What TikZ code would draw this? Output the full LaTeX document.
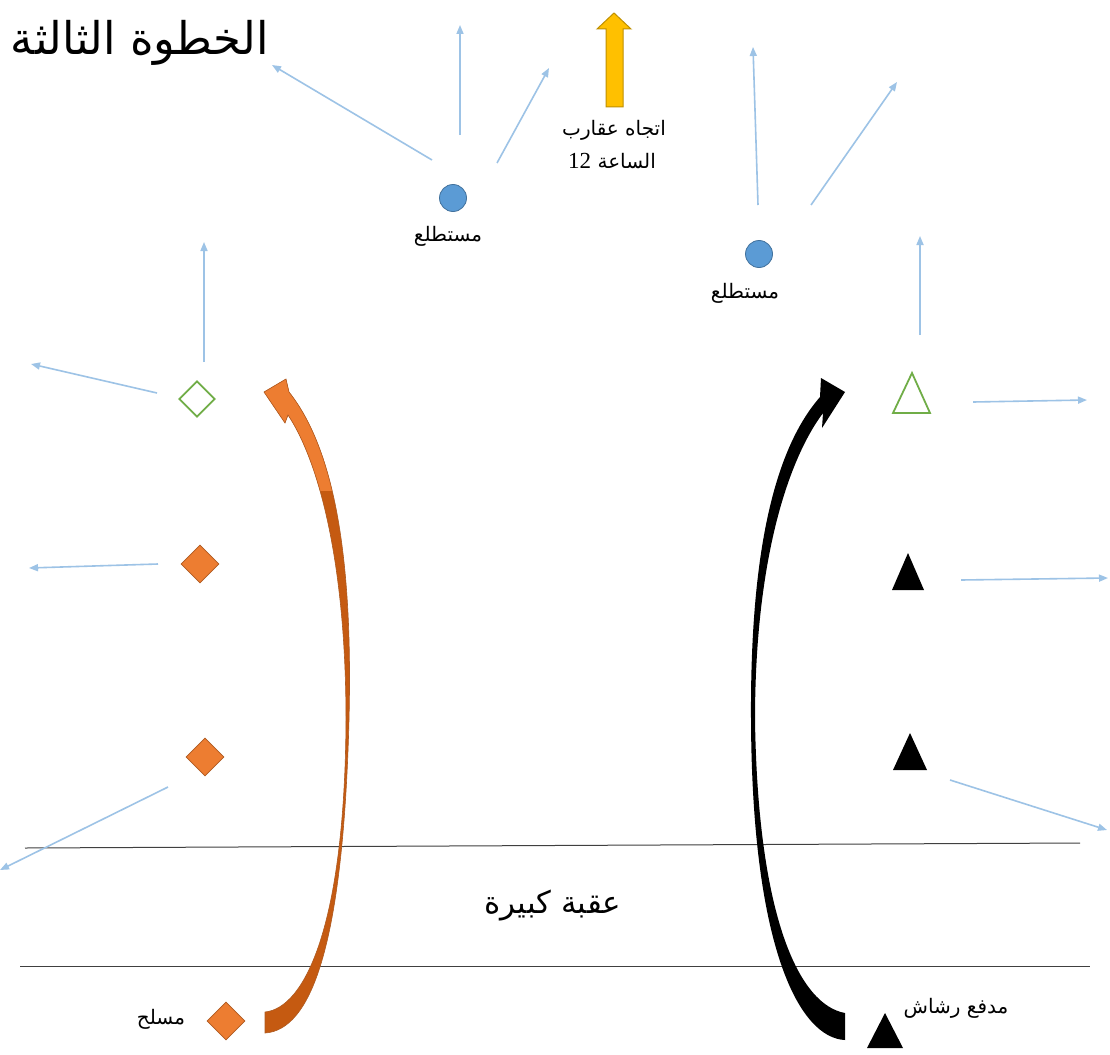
\documentclass[tikz,border=0pt]{standalone}
\usepackage{fontspec}
\setmainfont{Liberation Serif}
\newfontfamily\arabicfont[Script=Arabic]{DejaVu Sans}
\TeXXeTstate=1
\usetikzlibrary{shapes.geometric,arrows.meta}
\definecolor{skyline}{HTML}{9DC3E6}
\definecolor{dotfill}{HTML}{5B9BD5}
\definecolor{dotdraw}{HTML}{41719C}
\definecolor{grn}{HTML}{70AD47}
\definecolor{orfill}{HTML}{ED7D31}
\definecolor{ordark}{HTML}{C55A11}
\definecolor{ordraw}{HTML}{AE5A21}
\definecolor{yel}{HTML}{FFC000}
\definecolor{yeldraw}{HTML}{BF9000}
\tikzset{
  dir/.style={draw=skyline, line width=1.6pt, -{Triangle[length=9pt,width=7pt]}},
  scout/.style={circle, fill=dotfill, draw=dotdraw, line width=0.8pt, minimum size=27pt, inner sep=0pt},
  gdiam/.style={diamond, draw=grn, line width=1.8pt, fill=white, minimum size=36pt, inner sep=0pt},
  odiam/.style={diamond, draw=ordraw, line width=0.8pt, fill=orfill, minimum size=38pt, inner sep=0pt},
  lbl/.style={inner sep=0pt, text=black},
  ar/.style={lbl, font=\arabicfont\fontsize{20}{23}\selectfont},
  obst/.style={draw=black!75, line width=1pt},
}
\begin{document}
\begin{tikzpicture}[x=1pt, y=-1pt]
\useasboundingbox[fill=white] (0,0) rectangle (1110,1054);

% obstacle lines
\coordinate (o1a) at (25,848); \coordinate (o1b) at (1080,843);
\coordinate (o2a) at (20,966); \coordinate (o2b) at (1090,966);
\draw[obst] (o1a) -- (o1b);
\draw[obst] (o2a) -- (o2b);

% title
\node[lbl, font=\arabicfont\fontsize{45}{52}\selectfont] (title) at (140,43) {\beginR الخطوة الثالثة\endR};

% scouts
\node[scout] (c1) at (453,198) {};
\node[ar] (s1) at (448,236) {\beginR مستطلع\endR};
\node[scout] (c2) at (759,254) {};
\node[ar] (s2) at (745,293) {\beginR مستطلع\endR};

% clock direction arrow
\path[fill=yel, draw=yeldraw, line width=1pt] (606,107) -- (606,29) -- (597,29) -- (614,13) -- (631,29) -- (623,29) -- (623,107) -- cycle;
\node[ar] (clk1) at (614,130) {\beginR اتجاه عقارب\endR};
\node[ar] (clk2) at (612,161) {\beginR الساعة {\rmfamily\fontsize{23}{26}\selectfont\beginL 12\endL}\endR};

% direction arrows around scouts
\coordinate (a1s) at (432,160); \coordinate (a1e) at (272,65);
\coordinate (a2s) at (460,135); \coordinate (a2e) at (460,25);
\coordinate (a3s) at (497,163); \coordinate (a3e) at (549,68);
\coordinate (a4s) at (758,205); \coordinate (a4e) at (753,47);
\coordinate (a5s) at (811,205); \coordinate (a5e) at (897,82);
\draw[dir] (a1s) -- (a1e);
\draw[dir] (a2s) -- (a2e);
\draw[dir] (a3s) -- (a3e);
\draw[dir] (a4s) -- (a4e);
\draw[dir] (a5s) -- (a5e);

% left side (armed)
\node[gdiam] (d1) at (197,399) {};
\node[odiam] (d2) at (200,564) {};
\node[odiam] (d3) at (205,757) {};
\node[odiam] (d4) at (226,1021) {};
\node[ar] (arm) at (161,1019) {\beginR مسلح\endR};

\coordinate (b1s) at (204,362); \coordinate (b1e) at (204,242);
\coordinate (b2s) at (157,393); \coordinate (b2e) at (31,364);
\coordinate (b3s) at (158,564); \coordinate (b3e) at (29,568);
\coordinate (b4s) at (168,787); \coordinate (b4e) at (0,870);
\draw[dir] (b1s) -- (b1e);
\draw[dir] (b2s) -- (b2e);
\draw[dir] (b3s) -- (b3e);
\draw[dir] (b4s) -- (b4e);

% right side (machine gun)
\draw[grn, line width=1.8pt, line join=miter] (893,413) -- (912,373) -- (930,413) -- cycle;
\fill[black] (892,590) -- (908,553) -- (924,590) -- cycle;
\fill[black] (893,770) -- (910,733) -- (927,770) -- cycle;
\fill[black] (867,1048) -- (885,1013) -- (903,1048) -- cycle;
\node[ar] (mg) at (956,1008) {\beginR مدفع رشاش\endR};

\coordinate (r1s) at (920,335); \coordinate (r1e) at (920,236);
\coordinate (r2s) at (973,402); \coordinate (r2e) at (1087,400);
\coordinate (r3s) at (961,580); \coordinate (r3e) at (1108,578);
\coordinate (r4s) at (950,780); \coordinate (r4e) at (1107,830);
\draw[dir] (r1s) -- (r1e);
\draw[dir] (r2s) -- (r2e);
\draw[dir] (r3s) -- (r3e);
\draw[dir] (r4s) -- (r4e);

% obstacle label
\node[lbl, font=\arabicfont\fontsize{31}{36}\selectfont] (obs) at (553,905) {\beginR عقبة كبيرة\endR};

% orange curved arrow
\def\orpath{(265,1033) .. controls (310,1030) and (343,950) .. (349,720) .. controls (353,560) and (335,450) .. (289,392) -- (286,379) -- (264,392) -- (285,423) -- (288,415) .. controls (318,460) and (346,560) .. (346,720) .. controls (345,925) and (305,1008) .. (265,1012) -- cycle}
\fill[ordark] \orpath;
\begin{scope}
\clip (200,360) rectangle (400,490);
\fill[orfill] \orpath;
\end{scope}
\draw[ordraw, line width=0.6pt, line join=miter] \orpath;

% black curved arrow
\fill[black] (845,1040) .. controls (800,1038) and (752,950) .. (751,720) .. controls (750,560) and (772,452) .. (820,397) -- (821,378) -- (845,392) -- (822,428) -- (823,413) .. controls (788,460) and (755,560) .. (755,720) .. controls (758,920) and (800,1005) .. (845,1013) -- cycle;
\end{tikzpicture}
\end{document}
